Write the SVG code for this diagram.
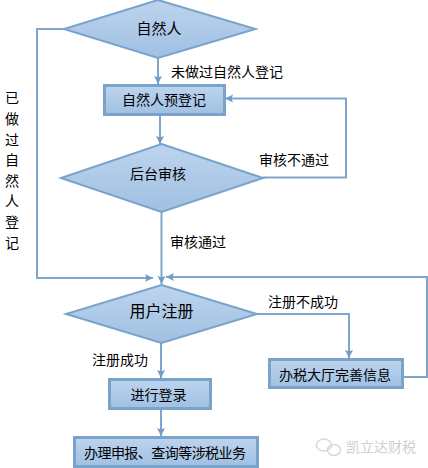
<svg xmlns="http://www.w3.org/2000/svg" width="428" height="468" viewBox="0 0 428 468">
<style>
text{font-family:"Noto Sans CJK SC","Noto Sans",sans-serif;font-size:14px;fill:#000;text-anchor:middle}
.l{text-anchor:start}
.n{fill:url(#g);stroke:#7aa3cb;stroke-width:2}
.r{fill:url(#g);stroke:#7aa3cb;stroke-width:3}
.c{fill:none;stroke:#7ea6cd;stroke-width:2}
.w{font-size:14px;fill:#cfcfcf;text-anchor:start}
</style>
<defs>
<linearGradient id="g" x1="0" y1="0" x2="0" y2="1"><stop offset="0" stop-color="#bdd4ee"/><stop offset="1" stop-color="#a0c0e2"/></linearGradient>
<marker id="a" markerUnits="userSpaceOnUse" markerWidth="9" markerHeight="9" refX="8" refY="4.500" orient="auto"><path d="M0 0.500L8 4.500L0 8.500L1.500 4.500Z" fill="#6f9cc8"/></marker>
</defs>
<rect width="428" height="468" fill="#fff"/>
<g id="connectors">
<path class="c" marker-end="url(#a)" d="M158 58V84"/>
<path class="c" marker-end="url(#a)" d="M160 115V144"/>
<path class="c" marker-end="url(#a)" d="M161.500 212V284"/>
<path class="c" marker-end="url(#a)" d="M161 343V378"/>
<path class="c" marker-end="url(#a)" d="M161 409V436"/>
<path class="c" marker-end="url(#a)" d="M64 29H37V278H153"/>
<path class="c" marker-end="url(#a)" d="M263 177.500H346V98.500H225"/>
<path class="c" marker-end="url(#a)" d="M257 314H349V358"/>
<path class="c" marker-end="url(#a)" d="M403 377H427V277H166"/>
</g>
<g id="n1"><path class="n" d="M158 0L255.500 29L158 58L64 29Z"/><text x="159" y="34" style="font-size:15px">自然人</text></g>
<g id="n2"><rect class="r" x="104.500" y="85.500" width="120" height="29"/><text x="164" y="105">自然人预登记</text></g>
<g id="n3"><path class="n" d="M161.500 144L263 178L161.500 212L61 178Z"/><text x="158" y="179">后台审核</text></g>
<g id="n4"><path class="n" d="M161.500 285L257 314L161.500 343L66 314Z"/><text x="161.500" y="317" style="font-size:16px">用户注册</text></g>
<g id="n5"><rect class="r" x="109.500" y="379.500" width="101" height="29"/><text x="158.500" y="400">进行登录</text></g>
<g id="n6"><rect class="r" x="74.500" y="437.500" width="183" height="29"/><text x="165" y="458" textLength="162" lengthAdjust="spacing">办理申报、查询等涉税业务</text></g>
<g id="n7"><rect class="r" x="269.500" y="359.500" width="133" height="28"/><text x="335" y="380">办税大厅完善信息</text></g>
<g id="labels">
<text class="l" x="171" y="77">未做过自然人登记</text>
<text class="l" x="259" y="165">审核不通过</text>
<text class="l" x="170" y="247">审核通过</text>
<text class="l" x="268" y="307">注册不成功</text>
<text class="l" x="92" y="365">注册成功</text>
<text x="12" y="103">已</text>
<text x="12" y="124">做</text>
<text x="12" y="145">过</text>
<text x="12" y="165">自</text>
<text x="12" y="186">然</text>
<text x="12" y="206">人</text>
<text x="12" y="227">登</text>
<text x="12" y="248">记</text>
</g>
<g id="watermark">
<ellipse cx="324" cy="445" rx="7.500" ry="6" fill="none" stroke="#d8d8d8" stroke-width="1.500"/>
<ellipse cx="334" cy="450" rx="6.500" ry="5.500" fill="none" stroke="#d8d8d8" stroke-width="1.500"/>
<text class="w" x="346" y="452">凯立达财税</text>
</g>
</svg>
